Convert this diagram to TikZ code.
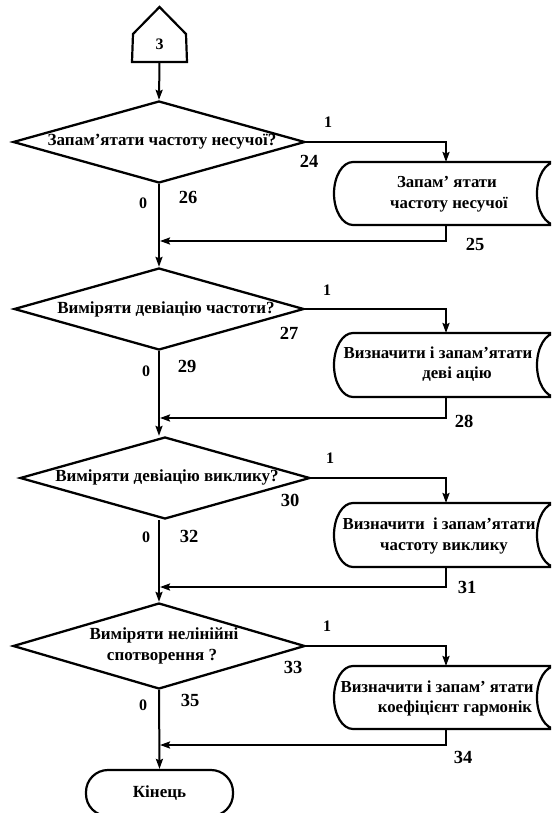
\documentclass[tikz,border=0pt]{standalone}
\usepackage{fontspec}
\setmainfont{Liberation Serif}
\usetikzlibrary{shapes.geometric,arrows.meta,calc}
\newcommand{\stdatabox}[4]{%
  \node[minimum width=203pt,minimum height=#3*2pt,inner sep=0pt] (#4) at (454.5,{(#1+#2)/2}) {};
  \draw[line width=2.2pt] (353,#1) -- (556,#1) arc[start angle=90,end angle=270,x radius=19pt,y radius=#3pt]
     -- (353,#2) arc[start angle=270,end angle=90,x radius=19pt,y radius=#3pt] -- cycle;}
\begin{document}
\begin{tikzpicture}[x=1pt,y=-1pt,line width=2pt,
  arr/.style={-{Stealth[length=10pt,width=7pt,inset=1.5pt]}},
  dec/.style={diamond,draw,line width=2.3pt,inner sep=0pt,minimum width=#1,minimum height=82pt},
  txt/.style={font=\bfseries\fontsize{17pt}{19pt}\selectfont,inner sep=0pt,text height=12pt,text depth=4pt},
  btxt/.style={font=\bfseries\fontsize{16.8pt}{19pt}\selectfont,inner sep=0pt,text height=12pt,text depth=4pt},
  lab/.style={font=\bfseries\fontsize{16pt}{16pt}\selectfont,inner sep=0pt},
  num/.style={font=\bfseries\fontsize{18.5pt}{18pt}\selectfont,inner sep=0pt},
  term/.style={draw,line width=2.2pt,rounded corners=22pt,minimum width=147pt,minimum height=46pt,inner sep=0pt}
]
\useasboundingbox (0,0) rectangle (551,813);
\clip (0,0) rectangle (551,813);
% start connector (pentagon)
\node[minimum width=53pt,minimum height=53pt,inner sep=0pt] (pent) at (159.5,34.5) {};
\draw[line width=2.2pt] (pent.south west) -- (133,34) -- (pent.north) -- (186,34) -- (pent.south east) -- cycle;
\node[lab] (pt) at (159.5,44) {3};
% decisions
\node[dec=292pt] (d1) at (159,142) {};
\node[dec=290pt] (d2) at (159,309) {};
\node[dec=290pt] (d3) at (165,478) {};
\node[dec=292pt,minimum height=86pt] (d4) at (159,646) {};
\node[txt] (d1t) at (162,142) {Запам’ятати частоту несучої?};
\node[txt] (d2t) at (166,309) {Виміряти девіацію частоти?};
\node[txt] (d3t) at (167,477) {Виміряти девіацію виклику?};
\node[txt] (d4t1) at (164,635) {Виміряти нелінійні};
\node[txt] (d4t2) at (162,656) {спотворення ?};
% stored data boxes
\stdatabox{162}{225}{31.5}{b1}
\stdatabox{333}{397}{32}{b2}
\stdatabox{503}{567}{32}{b3}
\stdatabox{666}{729}{31.5}{b4}
\node[btxt] (b1t1) at (447,184) {Запам’ ятати};
\node[btxt] (b1t2) at (449,204) {частоту несучої};
\node[btxt] (b2t1) at (438,354) {Визначити і запам’ятати};
\node[btxt] (b2t2) at (457,374) {деві ацію};
\node[btxt] (b3t1) at (439,525) {Визначити\ \ і запам’ятати};
\node[btxt] (b3t2) at (444,546) {частоту виклику};
\node[btxt] (b4t1) at (437,688) {Визначити і запам’ ятати};
\node[btxt] (b4t2) at (455,708) {коефіцієнт гармонік};
% terminal
\node[term] (end) at (159.5,793) {};
\node[txt] (endt) at (159.5,793) {Кінець};
% coordinates
\coordinate (i1) at (446,162); \coordinate (o1) at (446,225); \coordinate (m1) at (160,241);
\coordinate (i2) at (446,333); \coordinate (o2) at (446,397); \coordinate (m2) at (160,418);
\coordinate (i3) at (446,503); \coordinate (o3) at (446,567); \coordinate (m3) at (160,587);
\coordinate (i4) at (446,666); \coordinate (o4) at (446,729); \coordinate (m4) at (160,745);
% main line
\draw[arr] (pent.south) -- (d1.north);
\draw[arr] (d1.south) -- (d2.north);
\draw[arr] (d2.south) -- (d2.south |- d3.north);
\draw[arr] (d2.south |- d3.south) -- (d4.north);
\draw[arr] (d4.south) -- (end.north);
% yes branches
\draw[arr] (d1.east) -| (i1);
\draw[arr] (d2.east) -| (i2);
\draw[arr] (d3.east) -| (i3);
\draw[arr] (d4.east) -| (i4);
% returns
\draw[arr] (o1) |- (m1);
\draw[arr] (o2) |- (m2);
\draw[arr] (o3) |- (m3);
\draw[arr] (o4) |- (m4);
% labels
\node[lab] (y1) at (328,122) {1};
\node[lab] (y2) at (327,290) {1};
\node[lab] (y3) at (330,458) {1};
\node[lab] (y4) at (327,626) {1};
\node[lab] (n1) at (143,203) {0};
\node[lab] (n2) at (146,371) {0};
\node[lab] (n3) at (146,537) {0};
\node[lab] (n4) at (143,705) {0};
\node[num] (l24) at (309,161) {24};
\node[num] (l27) at (289,333) {27};
\node[num] (l30) at (290,500) {30};
\node[num] (l33) at (293,667) {33};
\node[num] (l26) at (188,197) {26};
\node[num] (l29) at (187,366) {29};
\node[num] (l32) at (189,536) {32};
\node[num] (l35) at (190,700) {35};
\node[num] (l25) at (475,244) {25};
\node[num] (l28) at (464,421) {28};
\node[num] (l31) at (467,587) {31};
\node[num] (l34) at (463,757) {34};
\end{tikzpicture}
\end{document}
